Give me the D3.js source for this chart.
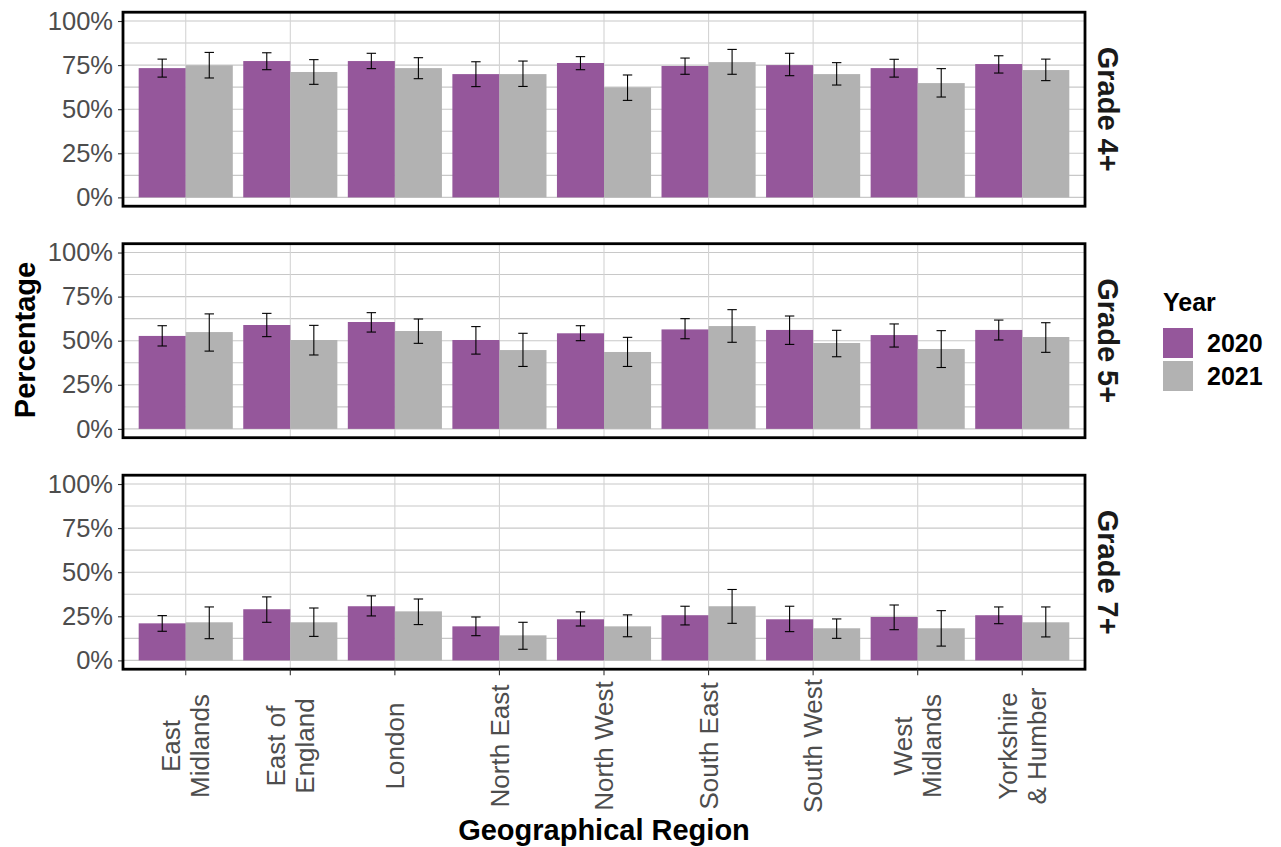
<html>
<head>
<meta charset="utf-8">
<title>Grades by region</title>
<script src="https://d3js.org/d3.v7.min.js"></script>
<style>
    body { margin: 0; background: #fff; }
    text { font-family: "Liberation Sans", Arial, Helvetica, sans-serif; }
    .grid line { stroke: #c8c8c8; stroke-width: 1.1; }
    .vgrid line { stroke: #d4d4d4; stroke-width: 1.1; }
    .err line { stroke: #000; stroke-width: 1.1; }
</style>
</head>
<body>
<svg width="1281" height="847"></svg>
<script>

// categories
var regions = ["East Midlands", "East of England", "London", "North East", "North West",
               "South East", "South West", "West Midlands", "Yorkshire & Humber"];
var regionLabels = [["East", "Midlands"], ["East of", "England"], ["London"], ["North East"], ["North West"],
                    ["South East"], ["South West"], ["West", "Midlands"], ["Yorkshire", "& Humber"]];
var years = ["2020", "2021"];
var grades = ["Grade 4+", "Grade 5+", "Grade 7+"];
var yTicks = [0, 25, 50, 75, 100];
var yMinor = [12.5, 37.5, 62.5, 87.5];

// Grade 4+ (value, lower, upper)
var g4_2020    = [73.3, 77.3, 77.3, 69.9, 76.2, 74.5, 75.0, 73.3, 75.6];
var g4_2020_lo = [68.2, 72.4, 73.0, 62.8, 72.4, 69.8, 69.0, 68.2, 70.5];
var g4_2020_hi = [78.4, 82.0, 81.7, 76.9, 79.8, 79.0, 81.7, 78.3, 80.3];
var g4_2021    = [74.9, 71.1, 73.3, 69.9, 62.4, 76.7, 69.9, 64.8, 72.2];
var g4_2021_lo = [67.7, 64.1, 67.3, 62.9, 55.0, 69.8, 63.7, 56.9, 66.2];
var g4_2021_hi = [82.2, 78.1, 79.2, 77.3, 69.4, 83.9, 76.4, 73.0, 78.4];

// Grade 5+
var g5_2020    = [52.7, 58.9, 60.6, 50.4, 54.2, 56.4, 56.1, 53.2, 56.1];
var g5_2020_lo = [47.0, 52.3, 54.9, 42.4, 50.0, 51.1, 47.9, 46.4, 50.4];
var g5_2020_hi = [58.5, 65.5, 65.9, 58.0, 58.5, 62.5, 64.0, 59.5, 61.7];
var g5_2021    = [54.9, 50.4, 55.5, 44.7, 43.6, 58.3, 48.7, 45.3, 52.1];
var g5_2021_lo = [44.1, 41.9, 48.5, 35.4, 35.4, 49.1, 40.9, 34.8, 43.4];
var g5_2021_hi = [65.2, 58.7, 62.3, 54.2, 51.9, 67.6, 55.9, 55.7, 60.2];

// Grade 7+
var g7_2020    = [21.0, 29.0, 30.7, 19.3, 23.3, 25.6, 23.3, 24.6, 25.6];
var g7_2020_lo = [16.5, 21.6, 25.2, 14.0, 19.5, 20.1, 16.3, 17.4, 20.8];
var g7_2020_hi = [25.4, 36.0, 36.6, 24.6, 27.5, 30.7, 30.7, 31.4, 30.3];
var g7_2021    = [21.6, 21.6, 27.8, 14.2, 19.3, 30.7, 18.2, 18.2, 21.6];
var g7_2021_lo = [12.3, 13.6, 20.3,  6.3, 13.4, 21.0, 12.5,  8.1, 13.3];
var g7_2021_hi = [30.3, 29.7, 34.8, 21.6, 25.8, 40.2, 23.5, 28.2, 30.3];

var colors = {"2020": "#95579b", "2021": "#b2b2b2"};

// build rows per panel
var panelData = [
    [[g4_2020, g4_2020_lo, g4_2020_hi], [g4_2021, g4_2021_lo, g4_2021_hi]],
    [[g5_2020, g5_2020_lo, g5_2020_hi], [g5_2021, g5_2021_lo, g5_2021_hi]],
    [[g7_2020, g7_2020_lo, g7_2020_hi], [g7_2021, g7_2021_lo, g7_2021_hi]]
];

var svg = d3.select("svg");

var left = 123, right = 1085;
var panelTop = 12.2, panelH = 194, panelGap = 37.5;

var x = d3.scaleBand().domain(regions).range([left, right]).paddingInner(0.1).paddingOuter(0.15);
var xSub = d3.scaleBand().domain(years).range([0, x.bandwidth()]);

grades.forEach(function (grade, gi) {
    var top = panelTop + gi * (panelH + panelGap);
    var bottom = top + panelH;
    var y = d3.scaleLinear().domain([-5, 105]).range([bottom, top]);
    var g = svg.append("g");

    // grid
    g.append("g").attr("class", "grid")
        .selectAll("line").data(yTicks.concat(yMinor)).enter().append("line")
        .attr("x1", left).attr("x2", right)
        .attr("y1", function (d) { return y(d); })
        .attr("y2", function (d) { return y(d); });
    g.append("g").attr("class", "vgrid")
        .selectAll("line").data(regions).enter().append("line")
        .attr("x1", function (d) { return x(d) + x.bandwidth() / 2; })
        .attr("x2", function (d) { return x(d) + x.bandwidth() / 2; })
        .attr("y1", top).attr("y2", bottom);

    // bars
    var rows = [];
    years.forEach(function (yr, yi) {
        var s = panelData[gi][yi];
        regions.forEach(function (r, ri) {
            rows.push({region: r, year: yr, value: s[0][ri], lo: s[1][ri], hi: s[2][ri]});
        });
    });

    g.append("g").selectAll("rect").data(rows).enter().append("rect")
        .attr("x", function (d) { return x(d.region) + xSub(d.year); })
        .attr("width", xSub.bandwidth())
        .attr("y", function (d) { return y(d.value); })
        .attr("height", function (d) { return y(0) - y(d.value); })
        .attr("fill", function (d) { return colors[d.year]; });

    // error bars
    var cap = xSub.bandwidth() * 0.2 / 2;
    var eb = g.append("g").attr("class", "err").selectAll("g").data(rows).enter().append("g")
        .attr("transform", function (d) {
            return "translate(" + (x(d.region) + xSub(d.year) + xSub.bandwidth() / 2) + ",0)";
        });
    eb.append("line").attr("x1", 0).attr("x2", 0)
        .attr("y1", function (d) { return y(d.lo); })
        .attr("y2", function (d) { return y(d.hi); });
    eb.append("line").attr("x1", -cap).attr("x2", cap)
        .attr("y1", function (d) { return y(d.lo); })
        .attr("y2", function (d) { return y(d.lo); });
    eb.append("line").attr("x1", -cap).attr("x2", cap)
        .attr("y1", function (d) { return y(d.hi); })
        .attr("y2", function (d) { return y(d.hi); });

    // y axis
    var ya = g.append("g").attr("transform", "translate(" + left + ",0)")
        .call(d3.axisLeft(y).tickValues(yTicks).tickSize(5).tickPadding(5)
            .tickFormat(function (d) { return d + "%"; }));
    ya.select(".domain").remove();
    ya.selectAll(".tick line").attr("stroke", "#333").attr("stroke-width", 1.1);
    ya.selectAll("text").attr("fill", "#4d4d4d").style("font-size", "25.5px")
        .style("font-family", "'Liberation Sans', Arial, sans-serif");

    // border
    g.append("rect").attr("x", left).attr("y", top)
        .attr("width", right - left).attr("height", panelH)
        .attr("fill", "none").attr("stroke", "#000").attr("stroke-width", 2.8);

    // strip label
    g.append("text")
        .attr("transform", "translate(1098," + (top + panelH / 2) + ") rotate(90)")
        .attr("text-anchor", "middle")
        .attr("fill", "#1a1a1a")
        .style("font-size", "29px").style("font-weight", "bold")
        .text(grade);

    // x axis on last panel
    if (gi === grades.length - 1) {
        var xa = g.append("g").attr("transform", "translate(0," + bottom + ")")
            .call(d3.axisBottom(x).tickSize(6).tickFormat(""));
        xa.select(".domain").remove();
        xa.selectAll(".tick line").attr("stroke", "#333").attr("stroke-width", 1.1);

        regions.forEach(function (r, ri) {
            var lines = regionLabels[ri];
            var cx = x(r) + x.bandwidth() / 2;
            var t = svg.append("text")
                .attr("transform", "translate(" + cx + ",746) rotate(-90)")
                .attr("text-anchor", "middle")
                .attr("fill", "#4d4d4d")
                .style("font-size", "26px");
            lines.forEach(function (ln, li) {
                var off = (li - (lines.length - 1) / 2) * 29;
                t.append("tspan").attr("x", 0).attr("y", off).attr("dy", "0.35em").text(ln);
            });
        });
    }
});

// axis titles
svg.append("text")
    .attr("transform", "translate(35,340) rotate(-90)")
    .attr("text-anchor", "middle")
    .style("font-size", "29px").style("font-weight", "bold")
    .text("Percentage");

svg.append("text")
    .attr("x", (left + right) / 2).attr("y", 840)
    .attr("text-anchor", "middle")
    .style("font-size", "29px").style("font-weight", "bold")
    .text("Geographical Region");

// legend
var legend = svg.append("g").attr("transform", "translate(1163,0)");
legend.append("text").attr("x", 0).attr("y", 311)
    .style("font-size", "25px").style("font-weight", "bold").text("Year");
years.forEach(function (yr, i) {
    legend.append("rect").attr("x", 0).attr("y", 328 + i * 33)
        .attr("width", 30).attr("height", 30).attr("fill", colors[yr]);
    legend.append("text").attr("x", 44).attr("y", 343 + i * 33).attr("dy", "0.36em")
        .style("font-size", "25px").style("font-weight", "bold").text(yr);
});

</script>
</body>
</html>
